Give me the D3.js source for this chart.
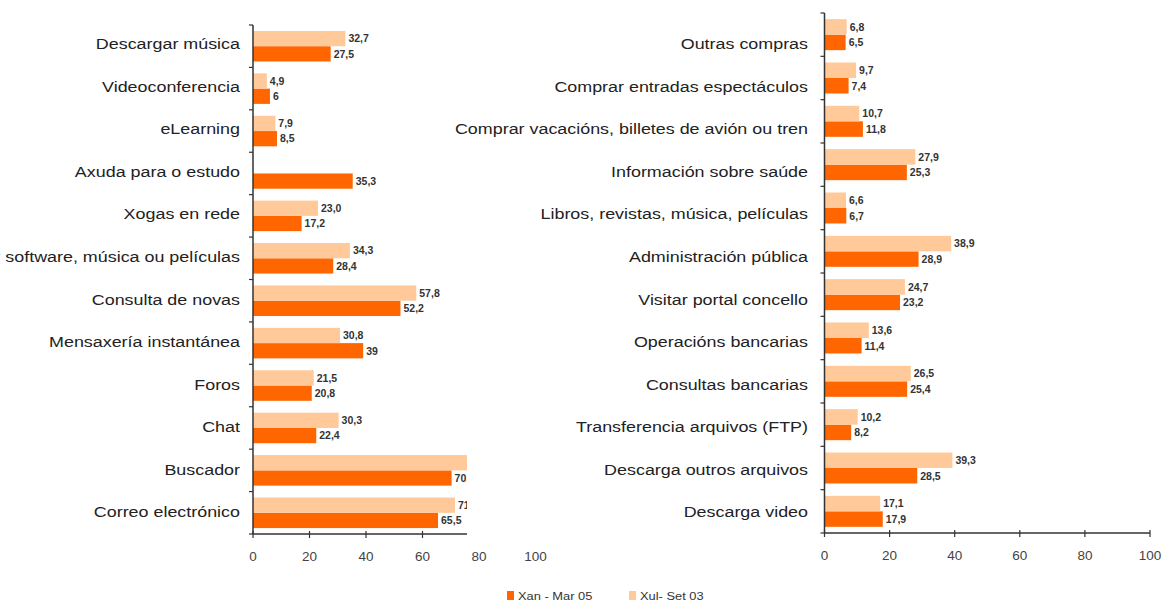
<!DOCTYPE html>
<html>
<head>
<meta charset="utf-8">
<script src="https://cdn.jsdelivr.net/npm/d3@7/dist/d3.min.js"></script>
<style>
  html, body { margin: 0; padding: 0; background: #fff; }
  svg { display: block; }
  text { font-family: "Liberation Sans", Arial, sans-serif; }
</style>
</head>
<body>
<svg id="chart" width="1163" height="603"></svg>
<script>
// Internet uses: two survey periods, two panels
const seriesNames = ["Xan - Mar 05", "Xul- Set 03"];
const seriesColors = ["#ff6600", "#ffc999"];

const leftCategories = [
  "Descargar música", "Videoconferencia", "eLearning", "Axuda para o estudo",
  "Xogas en rede", "Descargar software, música ou películas", "Consulta de novas",
  "Mensaxería instantánea", "Foros", "Chat", "Buscador", "Correo electrónico"
];
// values written as printed (comma decimals); null = no bar
const leftXan = ["27,5", "6", "8,5", "35,3", "17,2", "28,4", "52,2", "39", "20,8", "22,4", "70,3", "65,5"];
const leftXul = ["32,7", "4,9", "7,9", null, "23,0", "34,3", "57,8", "30,8", "21,5", "30,3", "76,4", "71,5"];

const rightCategories = [
  "Outras compras", "Comprar entradas espectáculos", "Comprar vacacións, billetes de avión ou tren",
  "Información sobre saúde", "Libros, revistas, música, películas", "Administración pública",
  "Visitar portal concello", "Operacións bancarias", "Consultas bancarias",
  "Transferencia arquivos (FTP)", "Descarga outros arquivos", "Descarga video"
];
const rightXan = ["6,5", "7,4", "11,8", "25,3", "6,7", "28,9", "23,2", "11,4", "25,4", "8,2", "28,5", "17,9"];
const rightXul = ["6,8", "9,7", "10,7", "27,9", "6,6", "38,9", "24,7", "13,6", "26,5", "10,2", "39,3", "17,1"];

const xTicks = [0, 20, 40, 60, 80, 100];

const num = s => (s == null ? null : +s.replace(",", "."));

const svg = d3.select("#chart");

function panel(cfg) {
  const x = d3.scaleLinear().domain([0, 100]).range([cfg.x0, cfg.x1]);
  const y = d3.scaleBand().domain(cfg.categories).range([cfg.y0, cfg.y1])
    .paddingInner(cfg.pad).paddingOuter(cfg.pad / 2);
  const sub = d3.scaleBand().domain([1, 0]).range([0, y.bandwidth()]);
  // category names sit on their own evenly spaced rows
  const yLabel = d3.scalePoint().domain(cfg.categories).range([44, 512]);

  const g = svg.append("g");
  const clipId = "clip" + cfg.id;
  svg.append("clipPath").attr("id", clipId).append("rect")
    .attr("x", 0).attr("y", 0).attr("width", cfg.clipRight).attr("height", 603);
  const plot = g.append("g").attr("clip-path", `url(#${clipId})`);

  const rows = cfg.categories.map((c, i) => ({ c, vals: [num(cfg.xan[i]), num(cfg.xul[i])], labels: [cfg.xan[i], cfg.xul[i]] }));

  rows.forEach(r => {
    [0, 1].forEach(s => {
      const v = r.vals[s];
      if (v == null) return;
      const by = y(r.c) + sub(s);
      plot.append("rect")
        .attr("x", x(0)).attr("y", by)
        .attr("width", x(v) - x(0)).attr("height", sub.bandwidth())
        .attr("fill", seriesColors[s]);
      plot.append("text")
        .attr("x", x(v) + 3).attr("y", by + sub.bandwidth() / 2)
        .attr("dy", "0.36em")
        .attr("font-size", 10.5).attr("font-weight", "bold")
        .attr("fill", "#333")
        .text(r.labels[s]);
    });
  });

  // vertical category axis with separators between groups
  const step = y.step();
  const gap = step * y.paddingInner();
  const bounds = cfg.categories.map(c => y(c) - gap / 2);
  bounds.push(y(cfg.categories[cfg.categories.length - 1]) + y.bandwidth() + gap / 2);
  const top = bounds[0], bottom = bounds[bounds.length - 1];
  plot.append("line").attr("x1", x(0)).attr("x2", x(0)).attr("y1", top).attr("y2", bottom)
    .attr("stroke", "#333").attr("stroke-width", 1.5);
  bounds.forEach(b => {
    plot.append("line").attr("x1", x(0) - 4).attr("x2", x(0)).attr("y1", b).attr("y2", b)
      .attr("stroke", "#333").attr("stroke-width", 1.2);
  });

  // bottom value axis
  plot.append("line").attr("x1", x(0)).attr("x2", x(100)).attr("y1", bottom).attr("y2", bottom)
    .attr("stroke", "#333").attr("stroke-width", 1.5);
  xTicks.forEach(t => {
    plot.append("line").attr("x1", x(t)).attr("x2", x(t)).attr("y1", bottom - 3).attr("y2", bottom + 4)
      .attr("stroke", "#333").attr("stroke-width", 1.2);
    g.append("text").attr("x", x(t)).attr("y", bottom + 27)
      .attr("text-anchor", "middle").attr("font-size", 13.5).attr("fill", "#444")
      .text(t);
  });

  // category labels
  cfg.categories.forEach(c => {
    g.append("text")
      .attr("transform", `translate(${x(0) - cfg.labelGap},${yLabel(c)}) scale(1.155,1)`)
      .attr("dy", "0.34em")
      .attr("text-anchor", "end").attr("font-size", 15.5).attr("fill", "#222")
      .text(c);
  });
}

panel({ id: "L", categories: leftCategories, xan: leftXan, xul: leftXul,
  x0: 253, x1: 535.5, y0: 25, y1: 534, pad: 0.28, clipRight: 467, labelGap: 13 });
panel({ id: "R", categories: rightCategories, xan: rightXan, xul: rightXul,
  x0: 824.5, x1: 1150, y0: 13, y1: 533, pad: 0.285, clipRight: 1163, labelGap: 16.5 });

// legend
const legend = svg.append("g").attr("transform", "translate(507,591)");
const legendX = [0, 122];
seriesNames.forEach((n, i) => {
  legend.append("rect").attr("x", legendX[i]).attr("y", 0).attr("width", 7).attr("height", 9)
    .attr("fill", seriesColors[i]);
  legend.append("text")
    .attr("transform", `translate(${legendX[i] + 11},4.5) scale(1.12,1)`)
    .attr("dy", "0.36em").attr("font-size", 11.5).attr("fill", "#333")
    .text(n);
});
</script>
</body>
</html>
